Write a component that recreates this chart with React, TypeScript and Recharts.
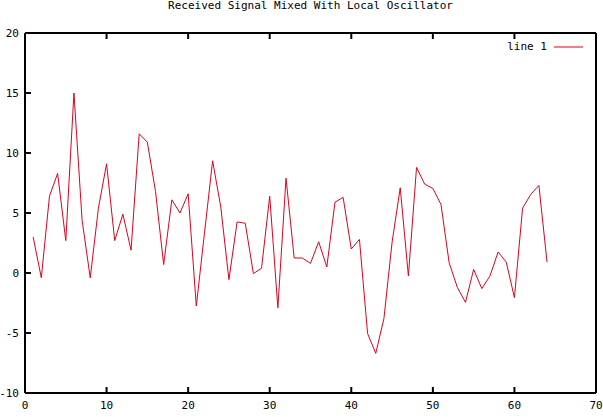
import { LineChart, Line, XAxis, YAxis, Legend } from "recharts"

const title = "Received Signal Mixed With Local Oscillator"
const seriesName = "line 1"

const xTicks = [0, 10, 20, 30, 40, 50, 60, 70]
const yTicks = [-10, -5, 0, 5, 10, 15, 20]

// sample index 1..64
const sampleIndex = Array.from({ length: 64 }, (_, i) => i + 1)
const signalValues = [
  3.0, -0.4, 6.4, 8.3, 2.7, 15.0, 4.4, -0.4, 5.4, 9.1,
  2.7, 4.9, 1.9, 11.6, 10.9, 6.8, 0.7, 6.1, 5.0, 6.6,
  -2.75, 3.3, 9.35, 5.5, -0.55, 4.25, 4.15, -0.05, 0.4, 6.4,
  -2.9, 7.9, 1.25, 1.25, 0.8, 2.6, 0.5, 5.9, 6.3, 2.0,
  2.8, -5.05, -6.7, -3.8, 2.55, 7.1, -0.25, 8.8, 7.4, 7.05,
  5.7, 0.85, -1.2, -2.45, 0.3, -1.3, -0.25, 1.75, 0.9, -2.05,
  5.4, 6.55, 7.3, 0.9,
]

const data = sampleIndex.map((x, i) => ({ x, y: signalValues[i] }))

const font = "'DejaVu Sans Mono', monospace"
const red = "#e0001b"
const TICK = 6

const BottomTick = (props: any) => {
  const { x, y, payload } = props
  return (
    <g>
      <line x1={x} y1={y} x2={x} y2={y - TICK} stroke="#000" strokeWidth={2} />
      <text x={x} y={y + 16} textAnchor="middle" fontFamily={font} fontSize={11} fill="#000">
        {payload.value}
      </text>
    </g>
  )
}

const TopTick = (props: any) => {
  const { x, y } = props
  return <line x1={x} y1={y} x2={x} y2={y + TICK} stroke="#000" strokeWidth={2} />
}

const LeftTick = (props: any) => {
  const { x, y, payload } = props
  return (
    <g>
      <line x1={x} y1={y} x2={x + TICK} y2={y} stroke="#000" strokeWidth={2} />
      <text x={x - 6} y={y + 4} textAnchor="end" fontFamily={font} fontSize={11} fill="#000">
        {payload.value}
      </text>
    </g>
  )
}

const RightTick = (props: any) => {
  const { x, y } = props
  return <line x1={x} y1={y} x2={x - TICK} y2={y} stroke="#000" strokeWidth={2} />
}

const renderLegend = () => (
  <div
    style={{
      display: "flex",
      justifyContent: "flex-end",
      alignItems: "center",
      fontFamily: font,
      fontSize: 11,
      color: "#000",
    }}
  >
    <span>{seriesName}</span>
    <svg width={37} height={10}>
      <line x1={7} y1={5} x2={36} y2={5} stroke={red} strokeWidth={1} />
    </svg>
  </div>
)

const axisLine = { stroke: "#000", strokeWidth: 2 }

export default function App() {
  return (
    <div style={{ position: "absolute", left: 0, top: 0, width: 603, height: 417, background: "#fff" }}>
      <div
        style={{
          position: "absolute",
          left: 0,
          top: 0,
          width: 621,
          textAlign: "center",
          fontFamily: font,
          fontSize: 11,
          lineHeight: "12px",
          color: "#000",
        }}
      >
        {title}
      </div>
      <LineChart width={603} height={417} data={data} margin={{ top: 32, right: 6, bottom: 0, left: 0 }}>
        <XAxis
          xAxisId="b"
          dataKey="x"
          type="number"
          domain={[0, 70]}
          ticks={xTicks}
          interval={0}
          height={24}
          tickSize={0}
          tickMargin={0}
          tickLine={false}
          axisLine={axisLine}
          tick={<BottomTick />}
        />
        <XAxis
          xAxisId="t"
          orientation="top"
          dataKey="x"
          type="number"
          domain={[0, 70]}
          ticks={xTicks.slice(1, -1)}
          interval={0}
          height={1}
          tickSize={0}
          tickMargin={0}
          tickLine={false}
          axisLine={axisLine}
          tick={<TopTick />}
        />
        <YAxis
          yAxisId="l"
          type="number"
          domain={[-10, 20]}
          ticks={yTicks}
          interval={0}
          width={25}
          tickSize={0}
          tickMargin={0}
          tickLine={false}
          axisLine={axisLine}
          tick={<LeftTick />}
        />
        <YAxis
          yAxisId="r"
          orientation="right"
          type="number"
          domain={[-10, 20]}
          ticks={yTicks.slice(1, -1)}
          interval={0}
          width={1}
          tickSize={0}
          tickMargin={0}
          tickLine={false}
          axisLine={axisLine}
          tick={<RightTick />}
        />
        <Legend
          layout="horizontal"
          verticalAlign="middle"
          content={renderLegend}
          wrapperStyle={{ position: "absolute", top: 40, left: 480, width: 104, height: 12 }}
        />
        <Line
          xAxisId="b"
          yAxisId="l"
          type="linear"
          dataKey="y"
          name={seriesName}
          stroke={red}
          strokeWidth={1}
          dot={false}
          isAnimationActive={false}
        />
      </LineChart>
    </div>
  )
}
